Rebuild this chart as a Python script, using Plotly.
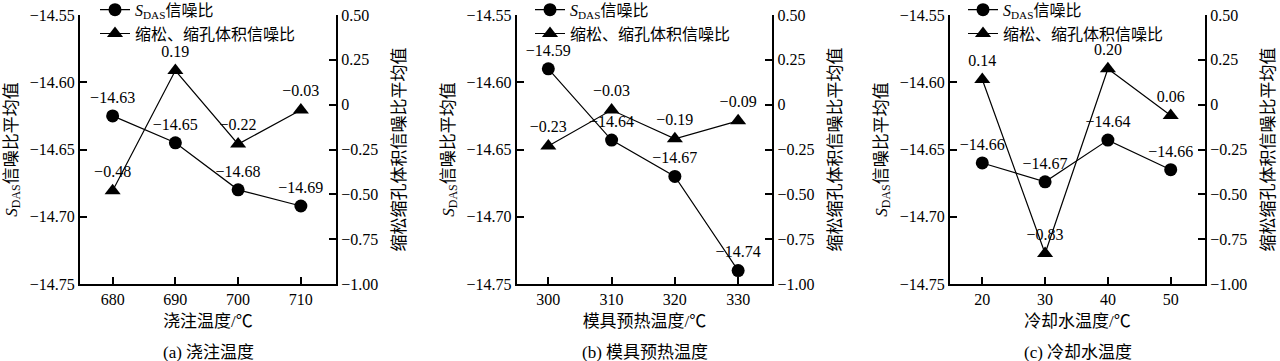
import plotly.graph_objects as go

# ---------------- data ----------------
x_a = [680, 690, 700, 710]
sdas_a = [-14.625, -14.645, -14.68, -14.692]
vol_a = [-0.48, 0.19, -0.22, -0.03]
sdas_lab_a = ["−14.63", "−14.65", "−14.68", "−14.69"]
vol_lab_a = ["−0.48", "0.19", "−0.22", "−0.03"]

x_b = [300, 310, 320, 330]
sdas_b = [-14.59, -14.643, -14.67, -14.74]
vol_b = [-0.23, -0.03, -0.19, -0.09]
sdas_lab_b = ["−14.59", "−14.64", "−14.67", "−14.74"]
vol_lab_b = ["−0.23", "−0.03", "−0.19", "−0.09"]

x_c = [20, 30, 40, 50]
sdas_c = [-14.66, -14.674, -14.643, -14.665]
vol_c = [0.14, -0.83, 0.20, -0.06]
sdas_lab_c = ["−14.66", "−14.67", "−14.64", "−14.66"]
vol_lab_c = ["0.14", "−0.83", "0.20", "0.06"]

left_ticks = [-14.75, -14.70, -14.65, -14.60, -14.55]
left_ticktext = ["−14.75", "−14.70", "−14.65", "−14.60", "−14.55"]
right_ticks = [-1.0, -0.75, -0.5, -0.25, 0, 0.25, 0.5]
right_ticktext = ["−1.00", "−0.75", "−0.50", "−0.25", "0", "0.25", "0.50"]

x_titles = ["浇注温度/℃", "模具预热温度/℃", "冷却水温度/℃"]
captions = ["(a) 浇注温度", "(b) 模具预热温度", "(c) 冷却水温度"]
legend_names = ["<i>S</i><sub>DAS</sub>信噪比", "缩松、缩孔体积信噪比"]
left_title = "<i>S</i><sub>DAS</sub>信噪比平均值"
right_title = "缩松缩孔体积信噪比平均值"

panels = [
    (x_a, sdas_a, vol_a, sdas_lab_a, vol_lab_a, [674.8, 715.6], [680, 690, 700, 710]),
    (x_b, sdas_b, vol_b, sdas_lab_b, vol_lab_b, [295.0, 335.4], [300, 310, 320, 330]),
    (x_c, sdas_c, vol_c, sdas_lab_c, vol_lab_c, [14.86, 55.46], [20, 30, 40, 50]),
]

# ---------------- layout geometry ----------------
W, H = 1280, 361
x_dom_px = [(80, 336), (516.7, 772.3), (950, 1205)]
y_top_px, y_bot_px = 15, 284
y_dom = [(H - y_bot_px) / H, (H - y_top_px) / H]
legend_x_px = [95, 530, 963]

FONT = "Liberation Serif, Times New Roman, Noto Sans CJK SC, serif"
BLACK = "black"

fig = go.Figure()
layout = dict(
    width=W, height=H,
    margin=dict(l=0, r=0, t=0, b=0, autoexpand=False),
    paper_bgcolor="white", plot_bgcolor="white",
    font=dict(family=FONT, size=16, color=BLACK),
    showlegend=True,
    annotations=[],
)

for i, (xs, s, v, sl, vl, xr, xt) in enumerate(panels):
    xa = "x" if i == 0 else f"x{i+1}"
    yl = f"y{2*i+1}" if i > 0 else "y"
    yr = f"y{2*i+2}"
    leg = "legend" if i == 0 else f"legend{i+1}"

    fig.add_trace(go.Scatter(
        x=xs, y=s, xaxis=xa, yaxis=yl, name=legend_names[0],
        mode="lines+markers+text", text=sl, textposition="top center",
        textfont=dict(family=FONT, size=16, color=BLACK),
        line=dict(color=BLACK, width=1.2),
        marker=dict(symbol="circle", size=13, color=BLACK),
        legend=leg, cliponaxis=False,
    ))
    fig.add_trace(go.Scatter(
        x=xs, y=v, xaxis=xa, yaxis=yr, name=legend_names[1],
        mode="lines+markers+text", text=vl, textposition="top center",
        textfont=dict(family=FONT, size=16, color=BLACK),
        line=dict(color=BLACK, width=1.2),
        marker=dict(symbol="triangle-up", size=14, color=BLACK),
        legend=leg, cliponaxis=False,
    ))

    x0, x1 = x_dom_px[i]
    xkey = "xaxis" if i == 0 else f"xaxis{i+1}"
    ylkey = "yaxis" if i == 0 else f"yaxis{2*i+1}"
    yrkey = f"yaxis{2*i+2}"
    layout[xkey] = dict(
        domain=[x0 / W, x1 / W], anchor=yl, range=xr, automargin=False,
        tickvals=xt, ticks="inside", ticklen=7, tickwidth=1.5, tickcolor=BLACK,
        showline=True, linecolor=BLACK, linewidth=2, mirror=False,
        showgrid=False, zeroline=False,
        tickfont=dict(size=16, family=FONT),
        title=dict(text=x_titles[i], font=dict(size=17), standoff=8),
    )
    layout[ylkey] = dict(
        domain=y_dom, anchor=xa, range=[-14.75, -14.55], automargin=False,
        tickvals=left_ticks, ticktext=left_ticktext,
        ticks="inside", ticklen=7, tickwidth=1.5, tickcolor=BLACK,
        showline=True, linecolor=BLACK, linewidth=2,
        showgrid=False, zeroline=False, tickfont=dict(size=16, family=FONT),
        title=dict(text=left_title, font=dict(size=17), standoff=8),
    )
    layout[yrkey] = dict(
        domain=y_dom, anchor=xa, overlaying=yl, side="right", range=[-1.0, 0.5],
        automargin=False,
        tickvals=right_ticks, ticktext=right_ticktext,
        ticks="inside", ticklen=7, tickwidth=1.5, tickcolor=BLACK,
        showline=True, linecolor=BLACK, linewidth=2,
        showgrid=False, zeroline=False, tickfont=dict(size=16, family=FONT),
        title=dict(text=right_title, font=dict(size=17), standoff=16),
    )
    layout[leg] = dict(
        x=legend_x_px[i] / W, y=1.02, xanchor="left", yanchor="top",
        bgcolor="rgba(0,0,0,0)", font=dict(size=16, family=FONT),
        tracegroupgap=0, itemwidth=30,
    )
    layout["annotations"].append(dict(
        text=captions[i], xref="paper", yref="paper",
        x=(x0 + x1) / 2 / W, y=(H - 352) / H, xanchor="center", yanchor="middle",
        showarrow=False, font=dict(size=17, family=FONT),
    ))

fig.update_layout(**layout)
fig.write_html(
    "out.html",
    config={"displayModeBar": False},
    post_script="document.body.style.margin='0';document.body.style.overflow='hidden';",
)
